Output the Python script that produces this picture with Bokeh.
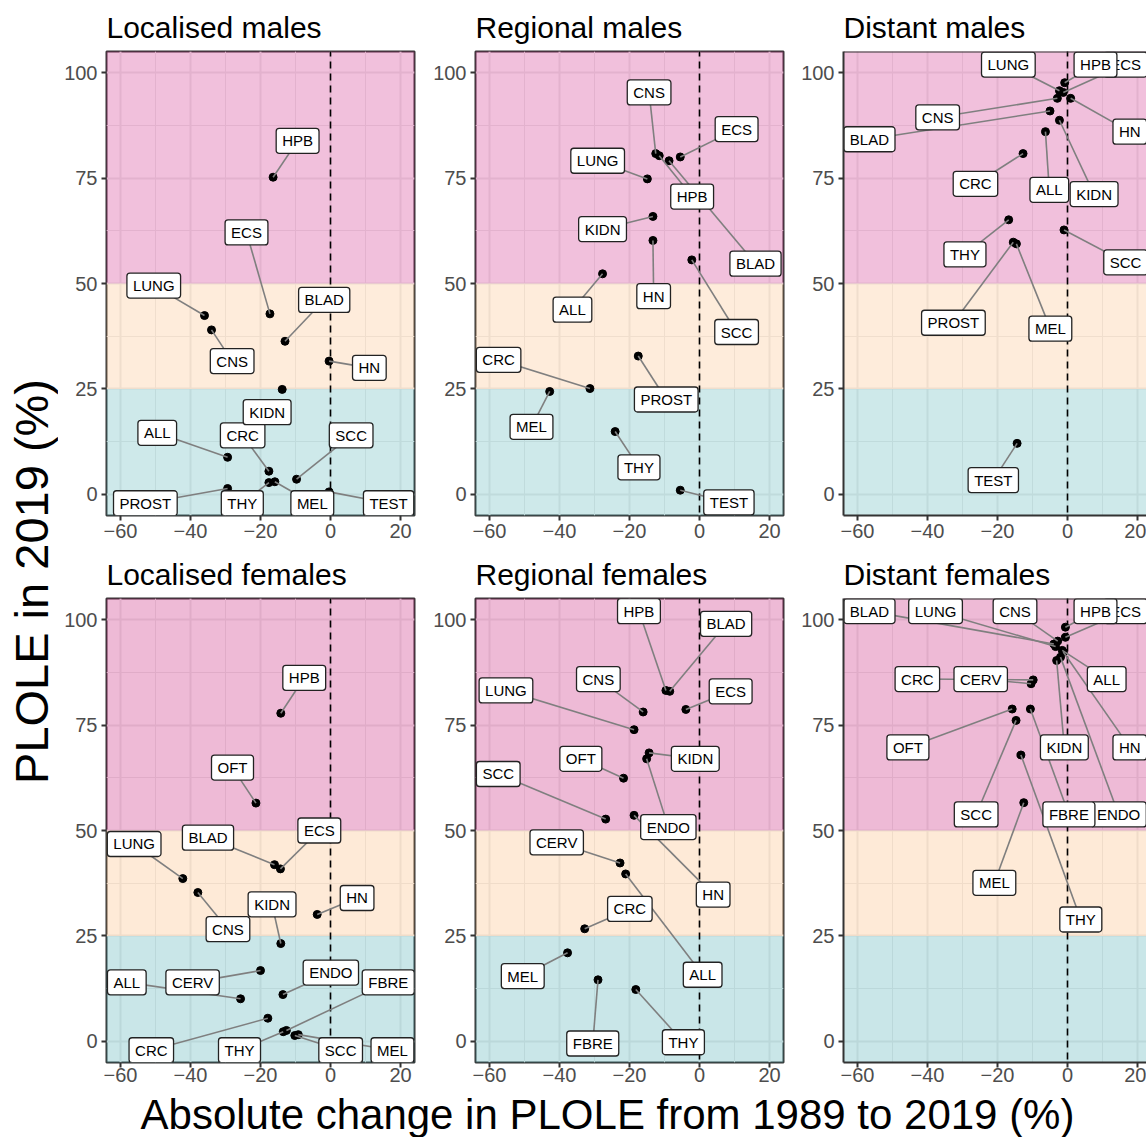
import math
from bokeh.plotting import figure
from bokeh.models import ColumnDataSource, FixedTicker, Span, Range1d
from bokeh.layouts import row, column
from bokeh.embed import file_html
from bokeh.resources import INLINE
from bokeh.core.properties import value

FONT = "Liberation Sans"

# ---------------- axes / bands ----------------
x_ticks = [-60, -40, -20, 0, 20]
x_tick_labels = ["\u221260", "\u221240", "\u221220", "0", "20"]
x_minor = [-50, -30, -10, 10]
y_ticks = [0, 25, 50, 75, 100]
y_tick_labels = ["0", "25", "50", "75", "100"]
y_minor = [12.5, 37.5, 62.5, 87.5]
x_limits = [-60, 20]
y_limits = [0, 100]
band_lo = [0, 25, 50]
band_hi = [25, 50, 100]
band_cols_males = ["#CEE9EA", "#FEECDB", "#F1C1DC"]
band_cols_females = ["#C9E6E8", "#FEEAD7", "#EEBAD6"]

panel_titles = ["Localised males", "Regional males", "Distant males",
                "Localised females", "Regional females", "Distant females"]
x_title = "Absolute change in PLOLE from 1989 to 2019 (%)"
y_title = "PLOLE in 2019 (%)"

# ---------------- data (change 1989->2019, PLOLE 2019, label positions) ----------------
loc_m_sites = ["ALL", "BLAD", "CNS", "CRC", "ECS", "HN", "HPB", "KIDN", "LUNG", "MEL", "PROST", "SCC", "TEST", "THY"]
loc_m_change = [-29.4, -13.0, -34.0, -17.6, -17.3, -0.4, -16.4, -13.8, -36.0, -15.9, -29.4, -9.7, -0.4, -17.6]
loc_m_plole = [8.8, 36.3, 39.0, 5.5, 42.8, 31.6, 75.2, 24.9, 42.4, 3.0, 1.4, 3.6, 0.6, 2.8]
loc_m_lab_x = [-49.5, -1.8, -28.1, -25.1, -24.0, 11.1, -9.4, -18.1, -50.5, -5.2, -52.9, 5.9, 16.6, -25.2]
loc_m_lab_y = [14.6, 46.1, 31.6, 14.0, 62.1, 30.0, 83.8, 19.5, 49.5, -2.1, -2.1, 14.0, -2.1, -2.1]

reg_m_sites = ["ALL", "BLAD", "CNS", "CRC", "ECS", "HN", "HPB", "KIDN", "LUNG", "MEL", "PROST", "SCC", "TEST", "THY"]
reg_m_change = [-27.7, -8.7, -12.5, -31.3, -5.5, -13.3, -11.5, -13.3, -14.9, -42.8, -17.5, -2.2, -5.5, -24.1]
reg_m_plole = [52.3, 79.1, 80.8, 25.1, 80.0, 60.2, 80.3, 65.9, 74.8, 24.4, 32.8, 55.6, 1.0, 14.9]
reg_m_lab_x = [-36.3, 16.0, -14.4, -57.4, 10.6, -13.1, -2.1, -27.7, -29.1, -48.0, -9.5, 10.6, 8.4, -17.3]
reg_m_lab_y = [43.8, 54.7, 95.3, 31.9, 86.6, 47.0, 70.6, 62.9, 79.1, 16.0, 22.5, 38.5, -1.9, 6.4]

dis_m_sites = ["ALL", "BLAD", "CNS", "CRC", "ECS", "HN", "HPB", "KIDN", "LUNG", "MEL", "PROST", "SCC", "TEST", "THY"]
dis_m_change = [-6.3, -5.0, -2.9, -12.7, -1.2, 0.9, -0.8, -2.3, -2.3, -14.6, -15.5, -1.0, -14.4, -16.8]
dis_m_plole = [86.0, 90.9, 93.9, 80.8, 95.3, 93.9, 97.6, 88.7, 95.7, 59.4, 59.8, 62.7, 12.1, 65.1]
dis_m_lab_x = [-5.2, -56.6, -37.1, -26.3, 16.6, 17.8, 8.0, 7.6, -16.9, -4.9, -32.6, 16.6, -21.2, -29.3]
dis_m_lab_y = [72.2, 84.2, 89.4, 73.6, 101.9, 86.0, 101.9, 71.2, 101.9, 39.3, 40.7, 55.0, 3.4, 56.9]

loc_f_sites = ["ALL", "BLAD", "CERV", "CNS", "CRC", "ECS", "ENDO", "FBRE", "HN", "HPB", "KIDN", "LUNG", "MEL", "OFT", "SCC", "THY"]
loc_f_change = [-25.7, -16.0, -20.0, -37.9, -17.9, -14.3, -13.6, -12.6, -3.8, -14.2, -14.2, -42.2, -9.2, -21.3, -10.2, -13.5]
loc_f_plole = [10.1, 41.9, 16.8, 35.3, 5.5, 40.9, 11.1, 2.6, 30.1, 77.8, 23.2, 38.6, 1.6, 56.5, 1.4, 2.3]
loc_f_lab_x = [-58.2, -35.0, -39.4, -29.3, -51.2, -3.2, 0.1, 16.5, 7.6, -7.5, -16.7, -56.1, 17.7, -28.0, 2.9, -26.0]
loc_f_lab_y = [14.0, 48.3, 14.0, 26.6, -2.1, 50.0, 16.3, 14.0, 34.0, 86.2, 32.5, 46.8, -2.1, 64.9, -2.1, -2.1]

reg_f_sites = ["ALL", "BLAD", "CERV", "CNS", "CRC", "ECS", "ENDO", "FBRE", "HN", "HPB", "KIDN", "LUNG", "MEL", "OFT", "SCC", "THY"]
reg_f_change = [-21.1, -8.5, -22.7, -16.1, -32.8, -3.9, -15.1, -29.0, -18.7, -9.6, -14.4, -18.7, -37.7, -21.7, -26.8, -18.2]
reg_f_plole = [39.7, 83.0, 42.3, 78.1, 26.7, 78.7, 67.0, 14.6, 53.6, 83.2, 68.4, 73.9, 21.0, 62.4, 52.7, 12.3]
reg_f_lab_x = [0.9, 7.6, -40.8, -28.9, -19.9, 8.9, -8.9, -30.5, 3.9, -17.3, -1.2, -55.3, -50.5, -33.9, -57.5, -4.6]
reg_f_lab_y = [15.8, 99.0, 47.2, 85.9, 31.4, 83.0, 50.8, -0.5, 34.8, 102.0, 67.0, 83.2, 15.5, 67.0, 63.4, -0.2]

dis_f_sites = ["ALL", "BLAD", "CERV", "CNS", "CRC", "ECS", "ENDO", "FBRE", "HN", "HPB", "KIDN", "LUNG", "MEL", "OFT", "SCC", "THY"]
dis_f_change = [-1.5, -3.9, -10.4, -2.8, -9.8, -0.6, -2.0, -10.6, -1.2, -0.6, -3.1, -3.4, -12.5, -15.8, -14.7, -13.3]
dis_f_plole = [92.7, 94.2, 84.8, 94.9, 85.7, 95.8, 91.1, 78.8, 92.3, 98.2, 90.3, 93.6, 56.6, 78.8, 76.1, 67.9]
dis_f_lab_x = [11.2, -56.6, -24.8, -15.0, -42.9, 16.6, 14.6, 0.4, 17.8, 8.0, -0.9, -37.7, -20.9, -45.6, -26.1, 3.8]
dis_f_lab_y = [85.9, 102.0, 85.9, 102.0, 85.9, 102.0, 53.8, 53.8, 69.7, 102.0, 69.7, 102.0, 37.6, 69.7, 53.8, 28.9]

panels = [
    (loc_m_sites, loc_m_change, loc_m_plole, loc_m_lab_x, loc_m_lab_y),
    (reg_m_sites, reg_m_change, reg_m_plole, reg_m_lab_x, reg_m_lab_y),
    (dis_m_sites, dis_m_change, dis_m_plole, dis_m_lab_x, dis_m_lab_y),
    (loc_f_sites, loc_f_change, loc_f_plole, loc_f_lab_x, loc_f_lab_y),
    (reg_f_sites, reg_f_change, reg_f_plole, reg_f_lab_x, reg_f_lab_y),
    (dis_f_sites, dis_f_change, dis_f_plole, dis_f_lab_x, dis_f_lab_y),
]

# ---------------- layout geometry ----------------
TOTAL_W, TOTAL_H = 1146, 1137
YT_W = 58
FRAME_W, FRAME_H = 308, 464
col_left = [48, 45, 45]
col_right = [16, 15, 0]
LAST_FRAME_W = TOTAL_W - YT_W - sum(col_left) - sum(col_right) - 2 * FRAME_W   # cut by window edge
row_top = [51, 51]
row_bottom = [32, 28]
row_xlabel_standoff = [3, 0]
BAND_ALPHA = 0.3
XT_FONT = 42

xr0 = x_limits[0] - 0.05 * (x_limits[1] - x_limits[0])
xr1 = x_limits[1] + 0.05 * (x_limits[1] - x_limits[0])
yr0 = y_limits[0] - 0.05 * (y_limits[1] - y_limits[0])
yr1 = y_limits[1] + 0.05 * (y_limits[1] - y_limits[0])
px_per_x = FRAME_W / (xr1 - xr0)
px_per_y = FRAME_H / (yr1 - yr0)


def under_colour(hexcol, a):
    h = hexcol.lstrip("#")
    rgb = [int(h[i:i + 2], 16) for i in (0, 2, 4)]
    c = [max(0, min(255, round(255 - (255 - v) / a))) for v in rgb]
    return "#%02X%02X%02X" % tuple(c)


def make_panel(idx):
    r, c = divmod(idx, 3)
    sites, chg, pl, lx, ly = panels[idx]
    fw = FRAME_W if c < 2 else LAST_FRAME_W
    x_end = xr1 if c < 2 else xr0 + LAST_FRAME_W / px_per_x
    p = figure(frame_width=fw, frame_height=FRAME_H,
               x_range=Range1d(xr0, x_end), y_range=Range1d(yr0, yr1),
               output_backend="svg", toolbar_location=None,
               min_border_left=col_left[c], min_border_right=col_right[c],
               min_border_top=row_top[r], min_border_bottom=row_bottom[r],
               background_fill_color="white", border_fill_color="white")
    # facet title
    p.title.text = panel_titles[idx]
    p.title.align = "left"
    p.title.text_font = FONT
    p.title.text_font_size = "30px"
    p.title.text_font_style = "normal"
    p.title.text_color = "black"
    p.title.standoff = 16
    p.title.offset = 0

    # axes
    p.xaxis.ticker = FixedTicker(ticks=x_ticks, minor_ticks=x_minor)
    p.yaxis.ticker = FixedTicker(ticks=y_ticks, minor_ticks=y_minor)
    p.xaxis.major_label_overrides = {t: l for t, l in zip(x_ticks, x_tick_labels)}
    p.yaxis.major_label_overrides = {t: l for t, l in zip(y_ticks, y_tick_labels)}
    for ax in (p.xaxis[0], p.yaxis[0]):
        ax.major_label_text_font = FONT
        ax.major_label_text_font_size = "20px"
        ax.major_label_text_color = "#4D4D4D"
        ax.major_tick_line_color = "#333333"
        ax.major_tick_line_width = 2
        ax.major_tick_out = 5
        ax.major_tick_in = 0
        ax.minor_tick_line_color = None
        ax.axis_label_standoff = 0
    p.xaxis.major_label_standoff = row_xlabel_standoff[r]
    p.yaxis.major_label_standoff = 4

    # grid
    p.xgrid.ticker = FixedTicker(ticks=x_ticks, minor_ticks=x_minor)
    p.ygrid.ticker = FixedTicker(ticks=y_ticks, minor_ticks=y_minor)
    for g in (p.xgrid[0], p.ygrid[0]):
        g.grid_line_color = "#EBEBEB"
        g.grid_line_width = 2
        g.minor_grid_line_color = "#EBEBEB"
        g.minor_grid_line_width = 1

    if c < 2:
        p.outline_line_color = "#333333"
        p.outline_line_width = 2
        p.xaxis.axis_line_color = None
        p.yaxis.axis_line_color = None
    else:
        p.outline_line_color = None
        p.xaxis.axis_line_color = "#333333"
        p.xaxis.axis_line_width = 2
        p.yaxis.axis_line_color = "#333333"
        p.yaxis.axis_line_width = 2
        p.add_layout(Span(location=yr1, dimension="width", line_color="#333333", line_width=2))

    # PLOLE bands
    cols = band_cols_males if r == 0 else band_cols_females
    bottoms = [b if b > y_limits[0] else yr0 - 5 for b in band_lo]
    tops = [t if t < y_limits[1] else yr1 + 5 for t in band_hi]
    p.quad(left=xr0 - 5, right=xr1 + 5, bottom=bottoms, top=tops,
           fill_color=[under_colour(cc, BAND_ALPHA) for cc in cols],
           fill_alpha=BAND_ALPHA, line_color=None)

    # zero reference line
    p.segment(x0=[0], y0=[yr0 - 5], x1=[0], y1=[yr1 + 5],
              line_color="black", line_width=1.6, line_dash="7 5")

    # points
    p.scatter(x=chg, y=pl, size=8, color="black")

    # repel segments (point -> label centre; the label box hides the rest)
    sx0, sy0, sx1, sy1 = [], [], [], []
    for xi, yi, lxi, lyi in zip(chg, pl, lx, ly):
        d = math.hypot((lxi - xi) * px_per_x, (lyi - yi) * px_per_y)
        if d > 30:
            sx0.append(xi); sy0.append(yi); sx1.append(lxi); sy1.append(lyi)
    p.segment(x0=sx0, y0=sy0, x1=sx1, y1=sy1, line_color="#7F7F7F", line_width=1.6)

    # labels
    src = ColumnDataSource(dict(x=lx, y=ly, t=sites))
    p.text(x="x", y="y", text="t", source=src,
           text_align="center", text_baseline="middle",
           text_font=value(FONT), text_font_size="15px", text_color="black",
           background_fill_color="white", border_line_color="#222222",
           border_line_width=1.3, border_radius=3,
           padding=dict(left=6, right=6, top=4, bottom=4))
    return p


figs = [make_panel(i) for i in range(6)]

row_h = [row_top[0] + FRAME_H + row_bottom[0], row_top[1] + FRAME_H + row_bottom[1]]
right_w = TOTAL_W - YT_W

# x-axis title strip
xt_h = TOTAL_H - sum(row_h)
xt = figure(width=right_w, height=xt_h, x_range=Range1d(0, right_w), y_range=Range1d(0, xt_h),
            output_backend="svg", toolbar_location=None, min_border=0,
            x_axis_location=None, y_axis_location=None)
xt.grid.visible = False
xt.outline_line_color = None
xt.text(x=[607 - YT_W], y=[0], text=[x_title], text_align="center", text_baseline="bottom",
        text_font=value(FONT), text_font_size="%dpx" % XT_FONT, text_color="black")

# y-axis title strip
yt = figure(width=YT_W, height=TOTAL_H, x_range=Range1d(0, YT_W), y_range=Range1d(0, TOTAL_H),
            output_backend="svg", toolbar_location=None, min_border=0,
            x_axis_location=None, y_axis_location=None)
yt.grid.visible = False
yt.outline_line_color = None
yt.text(x=[31], y=[TOTAL_H - 581], text=[y_title], angle=math.pi / 2,
        text_align="center", text_baseline="middle",
        text_font=value(FONT), text_font_size="47px", text_color="black")

layout = row(yt, column(row(figs[0], figs[1], figs[2]), row(figs[3], figs[4], figs[5]), xt))

open("out.html", "w").write(file_html(layout, INLINE))
